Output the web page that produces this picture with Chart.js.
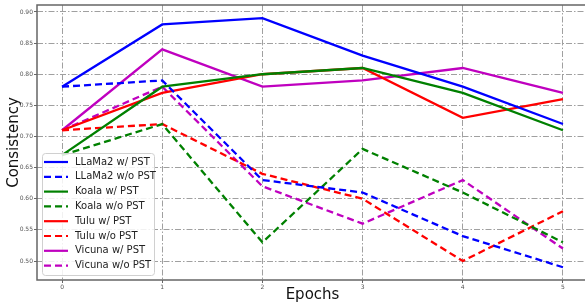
<!DOCTYPE html>
<html>
<head>
<meta charset="utf-8">
<script src="https://cdn.jsdelivr.net/npm/chart.js@4"></script>
<style>
  html, body { margin: 0; padding: 0; background: #fff; overflow: hidden; }
  #wrap { width: 588px; height: 304px; }
</style>
</head>
<body>
<div id="wrap"><canvas id="chart"></canvas></div>
<script>
const epochs = [0, 1, 2, 3, 4, 5];
const yTicks = [0.50, 0.55, 0.60, 0.65, 0.70, 0.75, 0.80, 0.85, 0.90];

const llamaWith = [0.78, 0.88, 0.89, 0.83, 0.78, 0.72];
const llamaWithout = [0.78, 0.79, 0.63, 0.61, 0.54, 0.49];
const koalaWith = [0.67, 0.78, 0.80, 0.81, 0.77, 0.71];
const koalaWithout = [0.67, 0.72, 0.53, 0.68, 0.61, 0.53];
const tuluWith = [0.71, 0.77, 0.80, 0.81, 0.73, 0.76];
const tuluWithout = [0.71, 0.72, 0.64, 0.60, 0.50, 0.58];
const vicunaWith = [0.71, 0.84, 0.78, 0.79, 0.81, 0.77];
const vicunaWithout = [0.71, 0.78, 0.62, 0.56, 0.63, 0.52];

const series = [
    { label: 'LLaMa2 w/ PST', data: llamaWith, color: '#0000ff', dashed: false },
    { label: 'LLaMa2 w/o PST', data: llamaWithout, color: '#0000ff', dashed: true },
    { label: 'Koala w/ PST', data: koalaWith, color: '#008000', dashed: false },
    { label: 'Koala w/o PST', data: koalaWithout, color: '#008000', dashed: true },
    { label: 'Tulu w/ PST', data: tuluWith, color: '#ff0000', dashed: false },
    { label: 'Tulu w/o PST', data: tuluWithout, color: '#ff0000', dashed: true },
    { label: 'Vicuna w/ PST', data: vicunaWith, color: '#bf00bf', dashed: false },
    { label: 'Vicuna w/o PST', data: vicunaWithout, color: '#bf00bf', dashed: true }
];

const DASH = [7, 4];
const GRID_DASH = [6, 2, 1.5, 2];

// 枠線（上・左・下）
const framePlugin = {
    id: 'frame',
    afterDatasetsDraw(chart) {
        const { ctx, chartArea: a } = chart;
        ctx.save();
        ctx.strokeStyle = '#666';
        ctx.lineWidth = 1.5;
        ctx.strokeRect(a.left, a.top, a.right - a.left, a.bottom - a.top);
        ctx.restore();
    }
};

// 凡例（グラフ内左下）
const legendPlugin = {
    id: 'innerLegend',
    afterDraw(chart) {
        const { ctx } = chart;
        const x0 = 42, y0 = 153, w = 112, h = 122;
        ctx.save();
        ctx.fillStyle = 'rgba(255,255,255,0.85)';
        ctx.strokeStyle = '#d0d0d0';
        ctx.lineWidth = 1;
        ctx.beginPath();
        ctx.roundRect(x0 + 0.5, y0 + 0.5, w, h, 3);
        ctx.fill();
        ctx.stroke();
        ctx.font = '10px "DejaVu Sans"';
        ctx.textBaseline = 'middle';
        series.forEach((s, i) => {
            const y = 162 + i * 14.8;
            ctx.strokeStyle = s.color;
            ctx.lineWidth = 2.2;
            ctx.setLineDash(s.dashed ? DASH : []);
            ctx.beginPath();
            ctx.moveTo(44, y);
            ctx.lineTo(68, y);
            ctx.stroke();
            ctx.setLineDash([]);
            ctx.fillStyle = '#222';
            ctx.fillText(s.label, 75, y);
        });
        ctx.restore();
    }
};

const ctx = document.getElementById('chart').getContext('2d');
new Chart(ctx, {
    type: 'line',
    data: {
        datasets: series.map(s => ({
            label: s.label,
            data: s.data.map((v, i) => ({ x: epochs[i], y: v })),
            borderColor: s.color,
            backgroundColor: s.color,
            borderWidth: 2.3,
            borderDash: s.dashed ? DASH : [],
            pointRadius: 0,
            tension: 0,
            fill: false
        }))
    },
    options: {
        responsive: true,
        maintainAspectRatio: false,
        animation: false,
        layout: { padding: { top: 5, right: 0, left: 5, bottom: 0 } },
        plugins: { legend: { display: false }, tooltip: { enabled: false } },
        scales: {
            x: {
                type: 'linear',
                min: -0.25,
                max: 5.25,
                afterBuildTicks: s => { s.ticks = epochs.map(v => ({ value: v })); },
                afterFit: s => { s.height = 24; },
                ticks: { font: { size: 6, family: 'DejaVu Sans' }, color: '#555', padding: 1 },
                grid: { color: '#a0a0a0', lineWidth: 1, tickLength: 3, tickBorderDash: [], tickColor: '#666' },
                border: { display: false, dash: GRID_DASH },
                title: { display: true, text: 'Epochs', font: { size: 15, family: 'DejaVu Sans' }, color: '#111', padding: { top: -6, bottom: 0 } }
            },
            y: {
                min: 0.4695,
                max: 0.9112,
                afterBuildTicks: s => { s.ticks = yTicks.map(v => ({ value: v })); },
                afterFit: s => { s.width = 32; },
                ticks: { font: { size: 6, family: 'DejaVu Sans' }, color: '#555', padding: 1, callback: v => v.toFixed(2) },
                grid: { color: '#a0a0a0', lineWidth: 1, tickLength: 3, tickBorderDash: [], tickColor: '#666' },
                border: { display: false, dash: GRID_DASH },
                title: { display: true, text: 'Consistency', font: { size: 15, family: 'DejaVu Sans' }, color: '#111', padding: { top: 0, bottom: 0 } }
            }
        }
    },
    plugins: [framePlugin, legendPlugin]
});
</script>
</body>
</html>
